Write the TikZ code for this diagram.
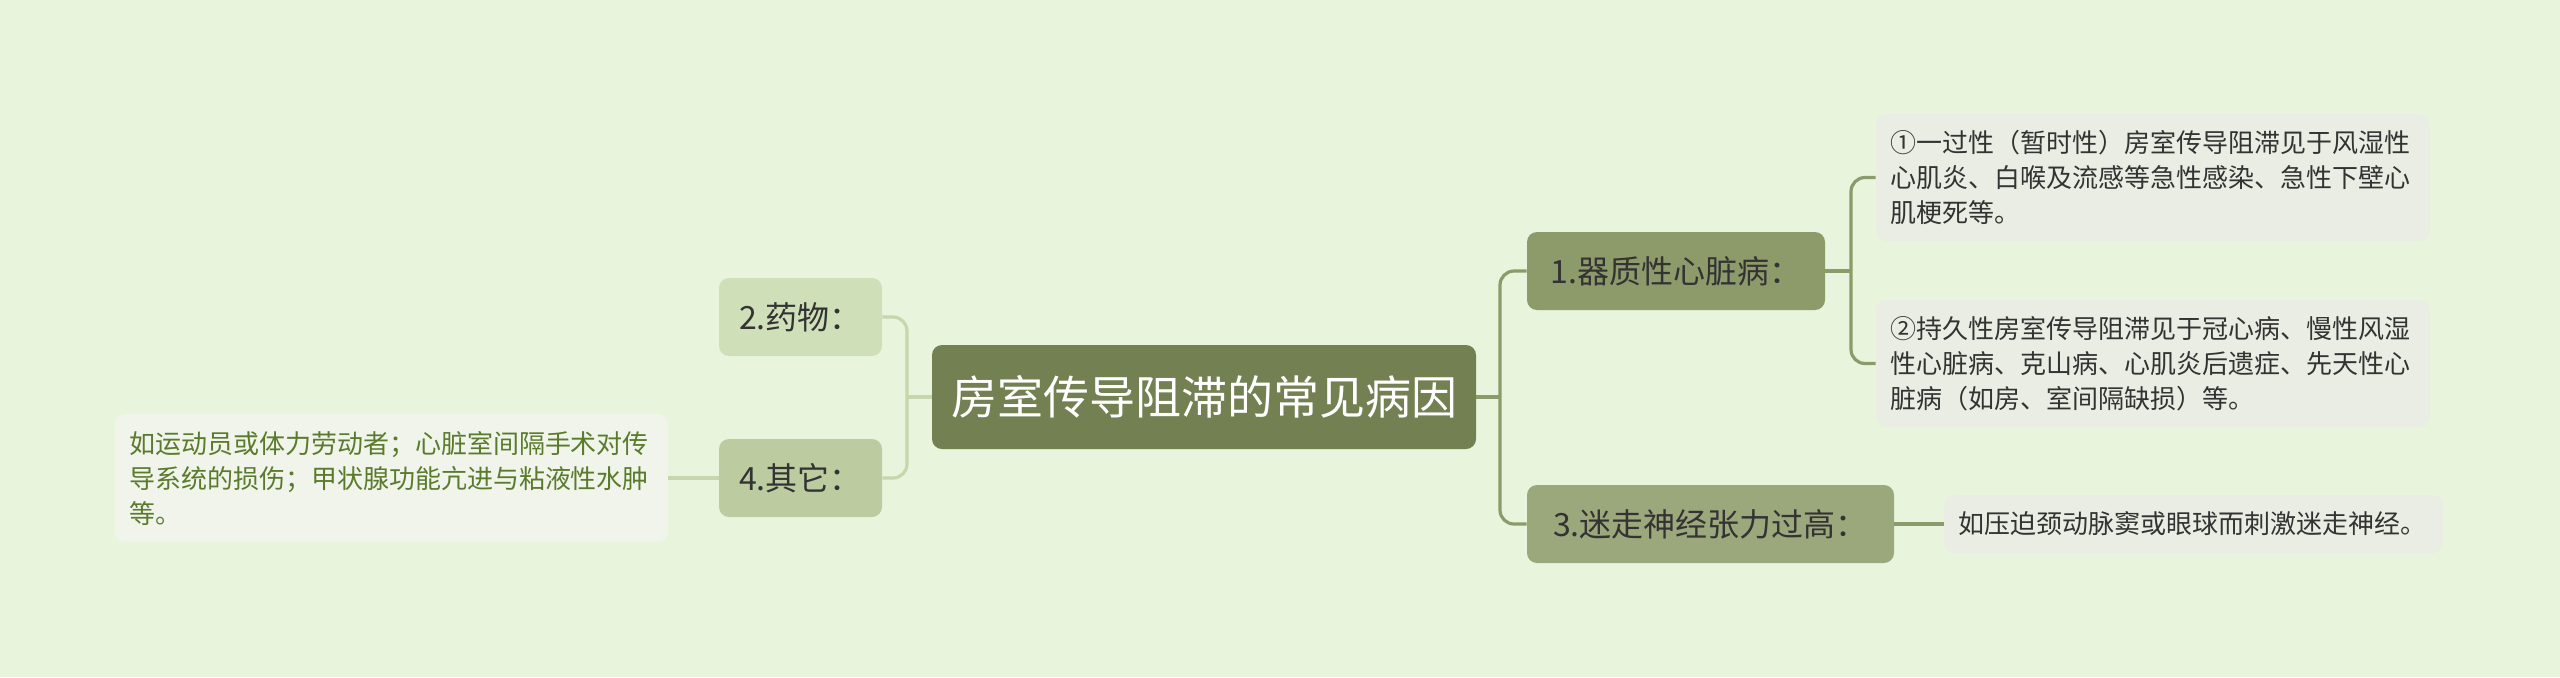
\documentclass[tikz,border=0pt]{standalone}
\usepackage{fontspec}
\newfontfamily\cjk{Noto Sans CJK SC}
\definecolor{bg}{HTML}{E8F5DC}
\definecolor{rootc}{HTML}{728052}
\definecolor{n1c}{HTML}{8D9B6B}
\definecolor{n3c}{HTML}{9AA87B}
\definecolor{n2c}{HTML}{CFE0B9}
\definecolor{n4c}{HTML}{BCCCA0}
\definecolor{leafr}{HTML}{EAEDE3}
\definecolor{leafl}{HTML}{F0F4EA}
\definecolor{linr}{HTML}{8D9B6B}
\definecolor{linl}{HTML}{C6D7AE}
\definecolor{txt}{HTML}{333333}
\definecolor{gtxt}{HTML}{5B7B2C}
\begin{document}
\begin{tikzpicture}[x=0.5pt,y=-0.5pt,
  every node/.style={font=\cjk, inner sep=0pt},
  rootbox/.style={fill=rootc, rounded corners=5pt, text=white,
    font=\cjk\fontsize{23pt}{28pt}\selectfont, minimum width=272pt, minimum height=52pt},
  topic/.style={rounded corners=5pt, text=txt,
    font=\cjk\fontsize{16pt}{20pt}\selectfont, minimum height=39pt},
  leaf/.style={rounded corners=5pt, text=txt, align=left, inner xsep=7pt,
    font=\cjk\fontsize{13pt}{17.5pt}\selectfont},
  rline/.style={draw=linr, line width=1.6pt, rounded corners=7pt},
  lline/.style={draw=linl, line width=1.6pt, rounded corners=7pt}
]
\fill[bg] (0,0) rectangle (2560,677);
\useasboundingbox (0,0) rectangle (2560,677);

\node[rootbox] (root) at (1204,397) {房室传导阻滞的常见病因};

\node[topic, fill=n1c, minimum width=149pt] (n1) at (1676,271) {1.器质性心脏病：};
\node[topic, fill=n3c, minimum width=183.5pt] (n3) at (1710.5,524) {3.迷走神经张力过高：};
\node[topic, fill=n2c, minimum width=81.5pt] (n2) at (800.5,317) {2.药物：};
\node[topic, fill=n4c, minimum width=81.5pt] (n4) at (800.5,478) {4.其它：};

\node[leaf, fill=leafr, text width=263pt, minimum height=63.5pt] (l1) at (2153,177.5)
  {①一过性（暂时性）房室传导阻滞见于风湿性\\心肌炎、白喉及流感等急性感染、急性下壁心\\肌梗死等。};
\node[leaf, fill=leafr, text width=263pt, minimum height=63.5pt] (l2) at (2153,363.5)
  {②持久性房室传导阻滞见于冠心病、慢性风湿\\性心脏病、克山病、心肌炎后遗症、先天性心\\脏病（如房、室间隔缺损）等。};
\node[leaf, fill=leafr, text width=235.5pt, minimum height=29pt] (l3) at (2193.5,524)
  {如压迫颈动脉窦或眼球而刺激迷走神经。};
\node[leaf, fill=leafl, text=gtxt, text width=262.5pt, minimum height=64pt] (l4) at (391.5,478)
  {如运动员或体力劳动者；心脏室间隔手术对传\\导系统的损伤；甲状腺功能亢进与粘液性水肿\\等。};

\coordinate (jr) at (1500,397);
\coordinate (j1) at (1851,271);
\coordinate (jl) at (907,397);

\path[rline] (root.east) -- (jr);
\path[rline] (n1.west) -| (jr) |- (n3.west);
\path[rline] (n1.east) -- (j1);
\path[rline] (l1.west) -| (j1) |- (l2.west);
\path[rline] (n3.east) -- (l3.west);
\path[lline] (root.west) -- (jl);
\path[lline] (n2.east) -| (jl) |- (n4.east);
\path[lline] (n4.west) -- (l4.east);
\end{tikzpicture}
\end{document}
